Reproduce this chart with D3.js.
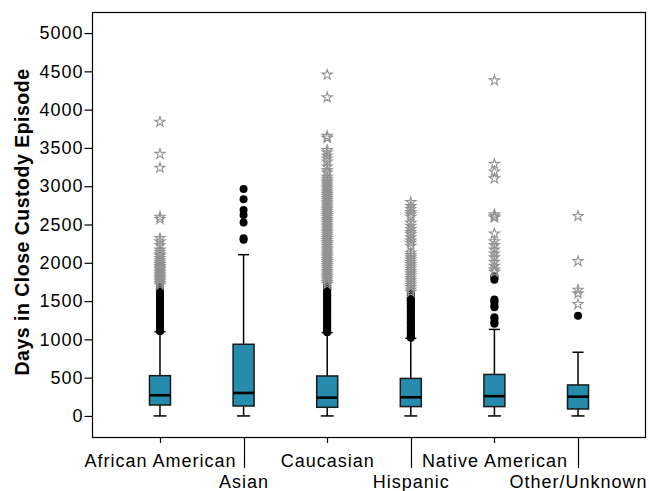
<!DOCTYPE html>
<html>
<head>
<meta charset="utf-8">
<script src="https://cdn.jsdelivr.net/npm/d3@7"></script>
<style>
  html, body { margin: 0; padding: 0; background: #fff; }
  svg { display: block; font-family: "Liberation Sans", Arial, sans-serif; }
</style>
</head>
<body>
<svg id="chart" width="649" height="491"></svg>
<script>
// Days in close custody episode, by race/ethnicity (box plot summary)
const categories = ["African American", "Asian", "Caucasian", "Hispanic", "Native American", "Other/Unknown"];
const lowerWhisker = [0, 0, 0, 0, 0, 0];
const q1 = [143, 130, 113, 122, 122, 91];
const medians = [270, 300, 239, 244, 258, 252];
const q3 = [526, 936, 522, 490, 542, 405];
const upperWhisker = [1100, 2106, 1088, 1014, 1130, 832];

// Outliers (circles)
const outliersAfricanAmerican = [1105, 1120, 1140, 1160, 1175, 1190, 1210, 1230, 1250, 1265, 1280, 1300, 1320, 1340, 1355, 1370, 1390, 1410, 1430, 1450, 1465, 1480, 1500, 1520, 1540, 1555, 1570, 1590, 1610, 1630, 1650, 1665, 1680, 1695];
const outliersAsian = [2300, 2320, 2525, 2625, 2690, 2830, 2965];
const outliersCaucasian = [1092, 1110, 1125, 1140, 1160, 1180, 1200, 1215, 1230, 1250, 1270, 1290, 1305, 1320, 1340, 1360, 1380, 1395, 1410, 1430, 1450, 1470, 1485, 1500, 1520, 1540, 1560, 1575, 1590, 1610, 1630, 1650, 1665, 1680, 1700, 1712];
const outliersHispanic = [1022, 1040, 1060, 1078, 1095, 1115, 1135, 1150, 1170, 1190, 1210, 1225, 1245, 1265, 1285, 1300, 1320, 1340, 1360, 1375, 1395, 1415, 1435, 1450, 1470, 1490, 1510, 1525, 1545, 1565, 1585, 1605];
const outliersNativeAmerican = [1205, 1225, 1270, 1290, 1420, 1440, 1480, 1505, 1520, 1780, 1800, 1825];
const outliersOther = [1310];

// Extreme values (stars)
const extremesAfricanAmerican = [1712, 1735, 1755, 1775, 1795, 1815, 1835, 1855, 1875, 1895, 1915, 1935, 1955, 1980, 2005, 2030, 2060, 2090, 2110, 2140, 2170, 2230, 2280, 2320, 2570, 2600, 3240, 3420, 3840];
const extremesAsian = [];
const extremesCaucasian = [1722, 1745, 1770, 1795, 1820, 1845, 1870, 1895, 1920, 1945, 1970, 1995, 2020, 2045, 2070, 2095, 2120, 2145, 2170, 2195, 2220, 2245, 2270, 2295, 2320, 2345, 2370, 2395, 2420, 2445, 2470, 2495, 2520, 2545, 2570, 2595, 2620, 2645, 2670, 2695, 2720, 2745, 2770, 2795, 2820, 2845, 2870, 2895, 2920, 2945, 2970, 2995, 3020, 3045, 3070, 3095, 3120, 3175, 3210, 3255, 3320, 3360, 3400, 3440, 3470, 3630, 3655, 4160, 4455];
const extremesHispanic = [1620, 1650, 1680, 1710, 1740, 1770, 1800, 1830, 1860, 1890, 1920, 1950, 1980, 2010, 2040, 2070, 2100, 2130, 2220, 2260, 2290, 2330, 2370, 2400, 2440, 2480, 2520, 2600, 2630, 2660, 2700, 2740, 2790];
const extremesNativeAmerican = [1880, 1910, 1960, 2010, 2070, 2120, 2170, 2230, 2280, 2380, 2590, 2605, 2630, 3100, 3190, 3290, 4380];
const extremesOther = [1460, 1600, 1645, 2020, 2610];

const yTicks = [0, 500, 1000, 1500, 2000, 2500, 3000, 3500, 4000, 4500, 5000];
const yTitle = "Days in Close Custody Episode";

const outliers = [outliersAfricanAmerican, outliersAsian, outliersCaucasian, outliersHispanic, outliersNativeAmerican, outliersOther];
const extremes = [extremesAfricanAmerican, extremesAsian, extremesCaucasian, extremesHispanic, extremesNativeAmerican, extremesOther];

const boxes = categories.map((c, i) => ({
  cat: c, lo: lowerWhisker[i], q1: q1[i], med: medians[i], q3: q3[i], hi: upperWhisker[i],
  out: outliers[i], ext: extremes[i], idx: i
}));

const plot = { left: 92, top: 12, right: 646, bottom: 437 };
const svg = d3.select("#chart");

const x = d3.scalePoint().domain(categories).range([plot.left, plot.right]).padding(0.813);
const y = d3.scaleLinear().domain([-275, 5275]).range([plot.bottom, plot.top]);

const boxW = 21, capW = 11;
const fillColor = "#268bad";

// frame
svg.append("rect")
  .attr("x", plot.left + 0.5).attr("y", plot.top + 0.5)
  .attr("width", plot.right - plot.left - 1).attr("height", plot.bottom - plot.top)
  .attr("fill", "none").attr("stroke", "#000").attr("stroke-width", 1.2);

// y axis
const yAxis = d3.axisLeft(y).tickValues(yTicks).tickSize(8).tickPadding(1).tickFormat(d3.format("d"));
const gy = svg.append("g").attr("transform", `translate(${plot.left + 0.5},0)`).call(yAxis);
gy.select(".domain").remove();
gy.selectAll(".tick line").attr("stroke", "#000").attr("stroke-width", 1.2);
gy.selectAll(".tick text").attr("fill", "#000")
  .style("font-size", "18px").style("letter-spacing", "1px");

svg.append("text")
  .attr("transform", `translate(29,222) rotate(-90)`)
  .attr("text-anchor", "middle")
  .style("font-size", "19.5px").style("font-weight", "bold").style("letter-spacing", "0.5px")
  .text(yTitle);

// x axis: alternating label rows, second-row ticks reach down to their labels
const gx = svg.append("g");
gx.selectAll("line.xt").data(boxes).join("line")
  .attr("class", "xt")
  .attr("x1", d => Math.round(x(d.cat)) + 0.5).attr("x2", d => Math.round(x(d.cat)) + 0.5)
  .attr("y1", plot.bottom).attr("y2", d => d.idx % 2 === 0 ? plot.bottom + 6 : plot.bottom + 31)
  .attr("stroke", "#000").attr("stroke-width", 1.2);
gx.selectAll("text.xl").data(boxes).join("text")
  .attr("class", "xl")
  .attr("x", d => x(d.cat) + 0.5)
  .attr("y", d => d.idx % 2 === 0 ? 467 : 488)
  .attr("text-anchor", "middle")
  .style("font-size", "18px").style("letter-spacing", "1px")
  .text(d => d.cat);

// boxes
const g = svg.append("g").selectAll("g.box").data(boxes).join("g").attr("class", "box");

g.append("line")
  .attr("x1", d => x(d.cat)).attr("x2", d => x(d.cat))
  .attr("y1", d => y(d.lo)).attr("y2", d => y(d.q1))
  .attr("stroke", "#000").attr("stroke-width", 1.5);
g.append("line")
  .attr("x1", d => x(d.cat)).attr("x2", d => x(d.cat))
  .attr("y1", d => y(d.q3)).attr("y2", d => y(d.hi))
  .attr("stroke", "#000").attr("stroke-width", 1.5);
g.append("line")
  .attr("x1", d => x(d.cat) - capW / 2 - 1).attr("x2", d => x(d.cat) + capW / 2 + 1)
  .attr("y1", d => y(d.lo)).attr("y2", d => y(d.lo))
  .attr("stroke", "#000").attr("stroke-width", 1.5);
g.append("line")
  .attr("x1", d => x(d.cat) - capW / 2).attr("x2", d => x(d.cat) + capW / 2)
  .attr("y1", d => y(d.hi)).attr("y2", d => y(d.hi))
  .attr("stroke", "#000").attr("stroke-width", 1.5);
g.append("rect")
  .attr("x", d => x(d.cat) - boxW / 2).attr("width", boxW)
  .attr("y", d => y(d.q3)).attr("height", d => y(d.q1) - y(d.q3))
  .attr("fill", fillColor).attr("stroke", "#1a1a1a").attr("stroke-width", 1.5);
g.append("line")
  .attr("x1", d => x(d.cat) - boxW / 2).attr("x2", d => x(d.cat) + boxW / 2)
  .attr("y1", d => y(d.med)).attr("y2", d => y(d.med))
  .attr("stroke", "#000").attr("stroke-width", 2.6);

// outliers
g.selectAll("circle").data(d => d.out.map(v => ({ cat: d.cat, v }))).join("circle")
  .attr("cx", d => x(d.cat)).attr("cy", d => y(d.v)).attr("r", 4)
  .attr("fill", "#000");

// extremes
const star = d3.symbol().type(d3.symbolStar).size(32);
g.selectAll("path.ext").data(d => d.ext.map(v => ({ cat: d.cat, v }))).join("path")
  .attr("class", "ext")
  .attr("transform", d => `translate(${x(d.cat)},${y(d.v)})`)
  .attr("d", star)
  .attr("fill", "none").attr("stroke", "#929292").attr("stroke-width", 1.1);
</script>
</body>
</html>
